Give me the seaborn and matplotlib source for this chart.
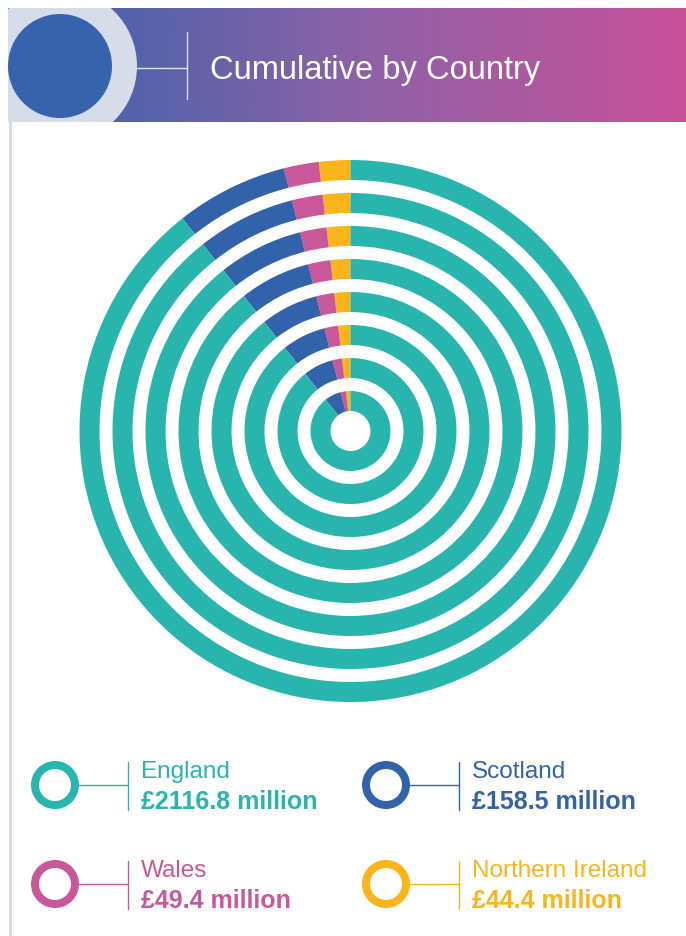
import numpy as np
import matplotlib
matplotlib.use("Agg")
import matplotlib.pyplot as plt
import matplotlib.patches as mpatches
from matplotlib.colors import LinearSegmentedColormap
import seaborn as sns

# Data
countries = ["Northern Ireland", "Wales", "Scotland", "England"]
amounts = [44.4, 49.4, 158.5, 2116.8]  # £ million, cumulative
amount_labels = ["£44.4 million", "£49.4 million", "£158.5 million", "£2116.8 million"]
n_rings = 8

sns.set_theme(style="white")
plt.rcParams["font.family"] = ["Liberation Sans", "DejaVu Sans"]

palette = sns.color_palette(["#f9b51a", "#c9579a", "#3162aa", "#27b5ad"])
colors = dict(zip(countries, palette))

W, H = 686, 936
fig = plt.figure(figsize=(W / 100, H / 100), dpi=100)
ax = fig.add_axes([0, 0, 1, 1])

def Y(y):
    return H - y

# Concentric rings, all the same split, starting at 12 o'clock going anti-clockwise
cx, cy = 350.5, Y(431)
for k in range(n_rings):
    r = 271 - 33 * k
    ax.pie(amounts, colors=palette, startangle=90, counterclock=True,
           center=(cx, cy), radius=r,
           wedgeprops=dict(width=20, linewidth=0))

ax.set_xlim(0, W)
ax.set_ylim(0, H)
ax.set_aspect("equal")
ax.axis("off")

# Header band with gradient
cmap = LinearSegmentedColormap.from_list("hdr", ["#3462ad", "#8a62a6", "#c9529a"])
grad = np.linspace(0, 1, 256).reshape(1, -1)
ax.imshow(grad, cmap=cmap, aspect="auto", extent=(8, W, Y(122), Y(8)), zorder=1)
clip = mpatches.Rectangle((8, Y(122)), W - 8, 114, transform=ax.transData,
                          facecolor="none", edgecolor="none")
ax.add_patch(clip)
outer = mpatches.Circle((60, Y(66)), 77, facecolor="#d7dcea", edgecolor="none", zorder=2)
inner = mpatches.Circle((60, Y(66)), 52, facecolor="#3763ad", edgecolor="none", zorder=3)
for p in (outer, inner):
    ax.add_patch(p)
    p.set_clip_path(clip)
ax.plot([137, 187], [Y(68), Y(68)], color="#dfe3f0", lw=1, zorder=4)
ax.plot([187, 187], [Y(32), Y(99)], color="#dfe3f0", lw=1, zorder=4)
ax.text(210, Y(70), "Cumulative by Country", color="white", fontsize=23.5,
        va="center", ha="left", zorder=5)
ax.set_xlim(0, W)
ax.set_ylim(0, H)

# Left rule
ax.plot([9.5, 9.5], [Y(122), 0], color="#d5dbec", lw=2.2, zorder=1)

# Legend
legend_pos = {
    "England": (55, 785),
    "Scotland": (386, 785),
    "Wales": (55, 884),
    "Northern Ireland": (386, 884),
}
for name, lab in zip(countries, amount_labels):
    x0, y0 = legend_pos[name]
    c = colors[name]
    ax.add_patch(mpatches.Wedge((x0, Y(y0)), 24, 0, 360, width=8, facecolor=c, edgecolor="none"))
    ax.plot([x0 + 24, x0 + 73], [Y(y0), Y(y0)], color=c, lw=1)
    ax.plot([x0 + 73, x0 + 73], [Y(y0 - 23), Y(y0 + 25)], color=c, lw=1)
    ax.text(x0 + 86, Y(y0 - 13), name, color=c, fontsize=17.5, va="center", ha="left")
    ax.text(x0 + 86, Y(y0 + 17), lab, color=c, fontsize=18, fontweight="bold",
            va="center", ha="left")

fig.savefig("out.png", dpi=100, facecolor="white")
